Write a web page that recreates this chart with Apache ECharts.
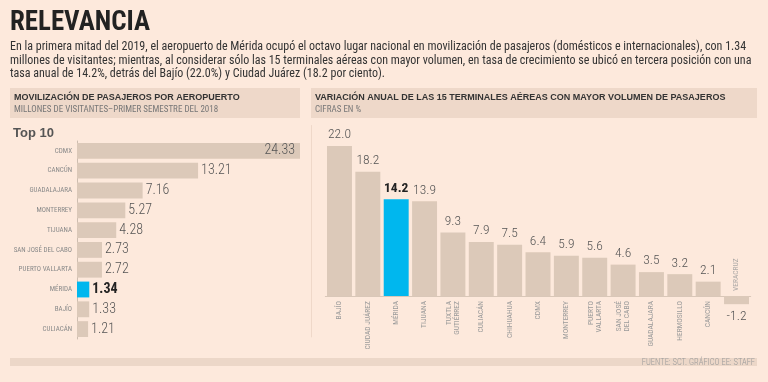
<!DOCTYPE html>
<html>
<head>
<meta charset="utf-8">
<script src="https://cdn.jsdelivr.net/npm/echarts@6/dist/echarts.min.js"></script>
<style>
html,body{margin:0;padding:0;background:#fde9dc;}
#c{width:768px;height:382px;}
</style>
</head>
<body>
<div id="c"></div>
<script>
var leftCats = ['CDMX','CANCÚN','GUADALAJARA','MONTERREY','TIJUANA','SAN JOSÉ DEL CABO','PUERTO VALLARTA','MÉRIDA','BAJÍO','CULIACÁN'];
var leftValues = [24.33,13.21,7.16,5.27,4.28,2.73,2.72,1.34,1.33,1.21];
var rightCats = ['BAJÍO','CIUDAD JUÁREZ','MÉRIDA','TIJUANA','TUXTLA\nGUTIÉRREZ','CULIACÁN','CHIHUAHUA','CDMX','MONTERREY','PUERTO\nVALLARTA','SAN JOSÉ\nDEL CABO','GUADALAJARA','HERMOSILLO','CANCÚN','VERACRUZ'];
var rightValues = [22.0,18.2,14.2,13.9,9.3,7.9,7.5,6.4,5.9,5.6,4.6,3.5,3.2,2.1,-1.2];
var highlight = 'MÉRIDA';
var negCat = 'VERACRUZ';

var titleText = 'RELEVANCIA';
var paraLines = [
  'En la primera mitad del 2019, el aeropuerto de Mérida ocupó el octavo lugar nacional en movilización de pasajeros (domésticos e internacionales), con 1.34',
  'millones de visitantes; mientras, al considerar sólo las 15 terminales aéreas con mayor volumen, en tasa de crecimiento se ubicó en tercera posición con una',
  'tasa anual de 14.2%, detrás del Bajío (22.0%) y Ciudad Juárez (18.2 por ciento).'
];

var NARROW = "'Roboto Condensed','Liberation Sans Narrow','DejaVu Sans Condensed',sans-serif";
var BOLD = "'Liberation Sans','DejaVu Sans',sans-serif";
var BAR = '#dcc9b9';
var BLUE = '#00b7ee';
var BG = '#fde9dc';

var mctx = document.createElement('canvas').getContext('2d');
function fitScale(text, font, target) {
  mctx.font = font;
  return target / mctx.measureText(text).width;
}

var titleFont = 'bold 27px ' + NARROW;
var titleScale = Math.min(1, fitScale(titleText, titleFont, 140));
var paraFont = '12px ' + NARROW;
var paraScale = Math.min(1, fitScale(paraLines[0], paraFont, 747));

var chart = echarts.init(document.getElementById('c'), null, {renderer:'canvas'});

var leftData = leftValues.map(function(v, i){
  var item = {value: v};
  if (leftCats[i] === highlight) {
    item.itemStyle = {color: BLUE};
    item.label = {fontWeight: 'bold', color: '#222'};
  }
  if (i === 0) {
    item.label = {position: 'insideRight', distance: 5};
  }
  return item;
});

var rightData = rightValues.map(function(v, i){
  var item = {value: v};
  if (rightCats[i] === highlight) {
    item.itemStyle = {color: BLUE};
    item.label = {fontWeight: 'bold', color: '#222'};
  }
  if (v < 0) {
    item.label = {position: 'bottom', distance: 5};
  }
  return item;
});

var negLabelData = rightCats.map(function(c){ return c === negCat ? 0 : null; });

var graphics = [
  {type:'text', x:10, y:10, scaleX:titleScale, style:{text:titleText, font:titleFont, fill:'#222', verticalAlign:'top'}},
  {type:'rect', shape:{x:10, y:88, width:290, height:30}, style:{fill:'#eed8c9'}},
  {type:'rect', shape:{x:311, y:88, width:446, height:30}, style:{fill:'#eed8c9'}},
  {type:'text', x:14, y:93, style:{text:'MOVILIZACIÓN DE PASAJEROS POR AEROPUERTO', font:"bold 9px " + BOLD, fill:'#333', verticalAlign:'top'}},
  {type:'text', x:14, y:105, style:{text:'MILLONES DE VISITANTES–PRIMER SEMESTRE DEL 2018', font:"9px " + NARROW, fill:'#777', verticalAlign:'top'}},
  {type:'text', x:315, y:93, style:{text:'VARIACIÓN ANUAL DE LAS 15 TERMINALES AÉREAS CON MAYOR VOLUMEN DE PASAJEROS', font:"bold 9px " + BOLD, fill:'#333', verticalAlign:'top'}},
  {type:'text', x:315, y:105, style:{text:'CIFRAS EN %', font:"9px " + NARROW, fill:'#777', verticalAlign:'top'}},
  {type:'text', x:13, y:127, style:{text:'Top 10', font:"bold 13px " + BOLD, fill:'#555', verticalAlign:'top'}},
  {type:'rect', shape:{x:10, y:358, width:747, height:8}, style:{fill:'#ecd7c8'}},
  {type:'text', x:755, y:358.5, style:{text:'FUENTE: SCT. GRÁFICO EE: STAFF', font:"300 8.5px " + NARROW, fill:'#9a9a9a', align:'right', verticalAlign:'top'}}
];
paraLines.forEach(function(t, i){
  graphics.push({type:'text', x:10, y:41 + i*13.5, scaleX:paraScale, style:{text:t, font:paraFont, fill:'#333', verticalAlign:'top'}});
});

chart.setOption({
  backgroundColor: BG,
  animation: false,
  graphic: graphics,
  grid: [
    {left:77, top:141, width:223, height:198, outerBoundsMode:'none', containLabel:false},
    {left:325.3, top:125.5, width:425.4, height:211.4, outerBoundsMode:'none', containLabel:false}
  ],
  xAxis: [
    {gridIndex:0, type:'value', min:0, max:24.33, show:false},
    {gridIndex:1, type:'category', data:rightCats, position:'bottom', offset:-40.9,
      axisLine:{show:true, onZero:false, lineStyle:{color:'#d9c7b8', width:1}},
      axisTick:{show:false},
      axisLabel:{interval:0, rotate:90, margin:5, fontSize:7.5, lineHeight:8, color:'#9a9a9a', fontFamily:NARROW,
        formatter:function(v){ return v === negCat ? '' : v; }}
    }
  ],
  yAxis: [
    {gridIndex:0, type:'category', data:leftCats, inverse:true,
      axisLine:{show:true, lineStyle:{color:'#cdbdb0', width:1}},
      axisTick:{show:false},
      axisLabel:{fontSize:7, color:'#8a8a8a', margin:5, fontFamily:NARROW}
    },
    {gridIndex:1, type:'value', min:-6, max:25, offset:14.3,
      axisLine:{show:true, lineStyle:{color:'#efd8c9', width:1}},
      axisTick:{show:false}, axisLabel:{show:false}, splitLine:{show:false}
    }
  ],
  series: [
    {type:'bar', xAxisIndex:0, yAxisIndex:0, data:leftData, barCategoryGap:'20%',
      itemStyle:{color:BAR},
      label:{show:true, position:'right', distance:3, fontSize:14, fontWeight:300, color:'#555', fontFamily:NARROW,
        formatter:function(p){ return p.value.toFixed(2); }}
    },
    {type:'bar', xAxisIndex:1, yAxisIndex:1, data:rightData, barCategoryGap:'12%',
      itemStyle:{color:BAR},
      label:{show:true, position:'top', distance:4, fontSize:13.5, fontWeight:300, color:'#555', fontFamily:NARROW,
        formatter:function(p){ return p.value.toFixed(1); }}
    },
    {type:'scatter', xAxisIndex:1, yAxisIndex:1, data:negLabelData, symbolSize:0, silent:true,
      label:{show:true, position:'top', distance:5, rotate:90, align:'left', verticalAlign:'middle',
        fontSize:7.5, color:'#9a9a9a', fontFamily:NARROW, formatter:function(){ return negCat; }}
    }
  ]
});
</script>
</body>
</html>
